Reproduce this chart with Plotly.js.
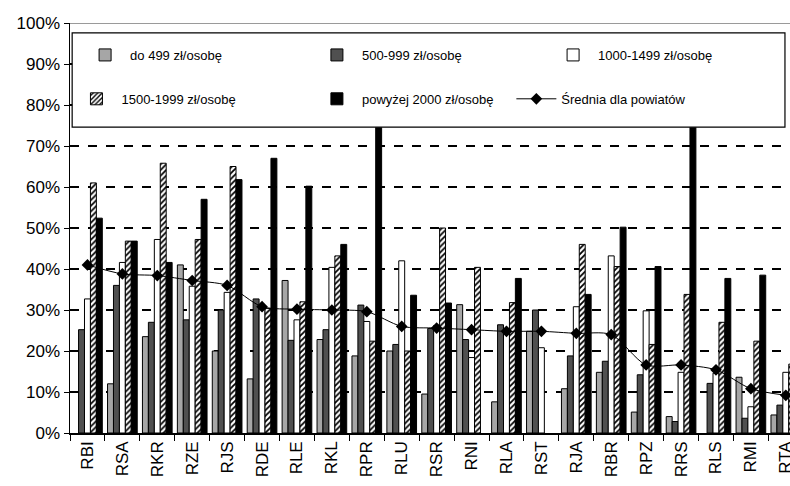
<!DOCTYPE html>
<html>
<head>
<meta charset="utf-8">
<script src="https://cdn.plot.ly/plotly-3.0.1.min.js"></script>
<style>
  html, body { margin: 0; padding: 0; background: #ffffff; overflow: hidden; }
  #chart { width: 790px; height: 486px; }
</style>
</head>
<body>
<div id="chart"></div>
<script>
// Powiat codes along the x axis
const powiaty = ["RBI", "RSA", "RKR", "RZE", "RJS", "RDE", "RLE", "RKL", "RPR", "RLU", "RSR",
                 "RNI", "RLA", "RST", "RJA", "RBR", "RPZ", "RRS", "RLS", "RMI", "RTA"];

// Shares (%) per income bracket
const do499   = [null, 12.0, 23.5, 41.0, 20.0, 13.2, 37.2, 22.8, 18.8, 20.0, 9.5,
                 31.3, 7.6, 24.8, 10.8, 14.8, 5.1, 4.0, null, 13.6, 4.4];
const p500    = [25.2, 36.0, 27.0, 27.6, 30.0, 32.7, 22.6, 25.2, 31.2, 21.6, 25.5,
                 22.8, 26.4, 30.0, 18.8, 17.5, 14.2, 2.8, 12.1, 3.6, 6.8];
const p1000   = [32.7, 41.6, 47.2, 35.8, 34.3, 30.7, 27.6, 40.4, 27.2, 42.0, 26.2,
                 18.4, 25.1, 20.8, 30.8, 43.2, 29.8, 14.8, 14.6, 6.4, 14.8];
const p1500   = [61.0, 46.8, 65.8, 47.2, 65.0, 30.4, 32.0, 43.2, 22.4, 20.0, 50.0,
                 40.4, 31.8, null, 46.0, 40.6, 21.6, 33.8, 27.0, 22.4, 16.8];
const p2000   = [52.4, 46.8, 41.6, 57.0, 61.8, 67.0, 60.2, 46.0, 90.0, 33.6, 31.7,
                 null, 37.7, null, 33.8, 50.2, 40.6, 85.0, 37.7, 38.5, null];
const srednia = [41.0, 38.8, 38.4, 37.2, 36.0, 30.8, 30.2, 30.0, 29.6, 26.0, 25.6,
                 25.2, 24.8, 24.8, 24.3, 24.0, 16.6, 16.6, 15.4, 10.8, 9.2];

const seriesNames = ["do 499 zł/osobę", "500-999 zł/osobę", "1000-1499 zł/osobę",
                     "1500-1999 zł/osobę", "powyżej 2000 zł/osobę", "Średnia dla powiatów"];
const yTickVals = [0, 10, 20, 30, 40, 50, 60, 70, 80, 90, 100];
const yTickText = ["0%", "10%", "20%", "30%", "40%", "50%", "60%", "70%", "80%", "90%", "100%"];

const outline = { color: "#000000", width: 1 };

const traces = [
  { type: "bar", name: seriesNames[0], x: powiaty, y: do499, legend: "legend",
    marker: { color: "#a6a6a6", line: outline } },
  { type: "bar", name: seriesNames[1], x: powiaty, y: p500, legend: "legend2",
    marker: { color: "#505050", line: outline } },
  { type: "bar", name: seriesNames[2], x: powiaty, y: p1000, legend: "legend3",
    marker: { color: "#ffffff", line: outline } },
  { type: "bar", name: seriesNames[3], x: powiaty, y: p1500, legend: "legend4",
    marker: { color: "#ffffff", line: outline,
              pattern: { shape: "/", fgcolor: "#000000", bgcolor: "#ffffff", size: 4, solidity: 0.45 } } },
  { type: "bar", name: seriesNames[4], x: powiaty, y: p2000, legend: "legend5",
    marker: { color: "#000000", line: outline } },
  { type: "scatter", mode: "lines+markers", name: seriesNames[5], x: powiaty, y: srednia,
    legend: "legend6",
    line: { color: "#000000", width: 1, shape: "spline", smoothing: 0.8 },
    marker: { color: "#000000", size: 9, symbol: "diamond" } }
];

// One single-entry legend per series, laid out as a 3 x 2 grid inside the frame
const legendFont = { family: "Arial, 'Liberation Sans', sans-serif", size: 13, color: "#000000" };
function legendAt(x, y) {
  return {
    orientation: "v", x: x, y: y, xanchor: "left", yanchor: "middle",
    itemwidth: 40, bgcolor: "rgba(0,0,0,0)", borderwidth: 0, font: legendFont
  };
}

const layout = {
  width: 790,
  height: 486,
  margin: { l: 70, r: 0, t: 23, b: 53 },
  paper_bgcolor: "#ffffff",
  plot_bgcolor: "#ffffff",
  barmode: "group",
  bargap: 0.15,
  bargroupgap: 0,
  font: { family: "Arial, 'Liberation Sans', sans-serif", color: "#000000" },
  xaxis: {
    type: "category",
    range: [-0.5, 20.12],
    showline: true, linecolor: "#000000", linewidth: 1.5,
    ticks: "outside", tickson: "boundaries", ticklen: 6, tickcolor: "#000000",
    tickangle: -90,
    tickfont: { size: 17, family: "Arial, 'Liberation Sans', sans-serif" },
    showgrid: false, zeroline: false, fixedrange: true
  },
  yaxis: {
    range: [0, 100],
    tickmode: "array",
    tickvals: yTickVals,
    ticktext: yTickText,
    showline: true, linecolor: "#000000", linewidth: 1.5,
    ticks: "outside", ticklen: 5, tickcolor: "#000000",
    tickfont: { size: 17, family: "Arial, 'Liberation Sans', sans-serif" },
    showgrid: true, gridcolor: "#000000", gridwidth: 1.3, griddash: "dash",
    zeroline: false, fixedrange: true
  },
  shapes: [
    // plot-area top border
    { type: "line", xref: "paper", yref: "y", x0: 0, x1: 1, y0: 100, y1: 100,
      line: { color: "#9a9a9a", width: 2 }, layer: "above" },
    // legend frame, opaque over the bars
    { type: "rect", xref: "paper", yref: "paper", x0: 0.003, x1: 0.993, y0: 0.746, y1: 0.976,
      fillcolor: "#ffffff", line: { color: "#000000", width: 1.2 }, layer: "above" }
  ],
  legend:  legendAt(0.014, 0.922),
  legend2: legendAt(0.336, 0.922),
  legend3: legendAt(0.664, 0.922),
  legend4: legendAt(0.002, 0.815),
  legend5: legendAt(0.336, 0.815),
  legend6: legendAt(0.613, 0.815),
  showlegend: true
};

Plotly.newPlot("chart", traces, layout, { displayModeBar: false, staticPlot: true });
</script>
</body>
</html>
